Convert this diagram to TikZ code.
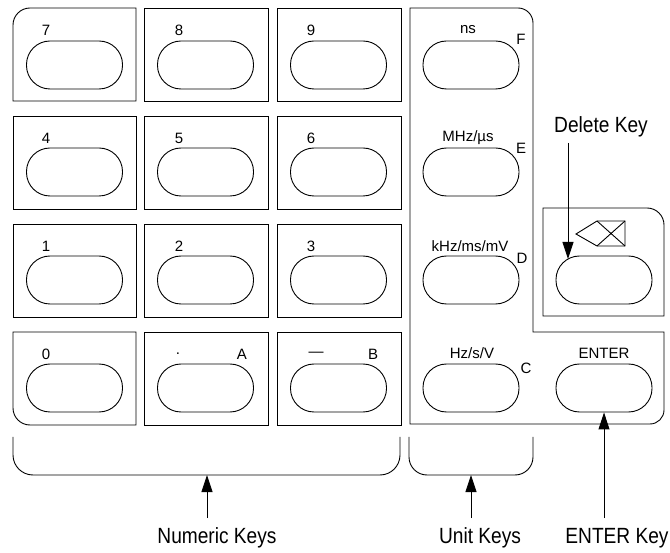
\documentclass[tikz,border=0pt]{standalone}
\usepackage{fontspec}
\setmainfont{Liberation Sans}
\newfontfamily\narrowf[FakeStretch=0.87]{Liberation Sans}
\usetikzlibrary{arrows.meta}
\tikzset{
  panel/.style={draw, line width=0.9pt},
  keyo/.style={draw, line width=0.9pt, rounded corners=23.5pt, minimum width=96pt, minimum height=48pt, inner sep=0pt},
  klab/.style={font=\fontsize{15}{15}\selectfont, inner sep=0pt},
  big/.style={font=\narrowf\fontsize{22}{22}\selectfont, inner sep=0pt},
  arr/.style={line width=0.9pt, -{Triangle[length=17pt,width=11pt]}},
}
\begin{document}
\begin{tikzpicture}[x=1pt,y=-1pt]
\useasboundingbox (0,0) rectangle (670,553);
% numeric key boxes
\draw[panel] (13,101) -- (13,25) arc[start angle=180,end angle=270,radius=17] -- (136,8) -- (136,101) -- cycle;
\draw[panel] (144,8) rectangle (268,101);
\draw[panel] (277,8) rectangle (401,101);
\foreach \y in {116,224}{
  \draw[panel] (13,\y) rectangle (136,\y+93);
  \draw[panel] (144,\y) rectangle (268,\y+93);
  \draw[panel] (277,\y) rectangle (401,\y+93);
}
\draw[panel] (13,332) -- (136,332) -- (136,425) -- (30,425) arc[start angle=90,end angle=180,radius=17] -- cycle;
\draw[panel] (144,332) rectangle (268,425);
\draw[panel] (277,332) rectangle (401,425);
% unit panel
\draw[panel] (410,424) -- (410,8) -- (518,8) arc[start angle=270,end angle=360,radius=15] -- (533,332) -- (664,332) -- (664,410) arc[start angle=0,end angle=90,radius=14] -- cycle;
% delete box
\draw[panel] (543,316) -- (543,208) -- (647,208) arc[start angle=270,end angle=360,radius=17] -- (664,316) -- cycle;
% delete symbol
\draw[line width=0.9pt, line join=miter] (576,234) -- (597,221) -- (625,221) -- (625,246) -- (597,246) -- cycle;
\draw[line width=0.9pt] (597,221) -- (625,246) (597,246) -- (625,221);
% ovals
\node[keyo] (k7) at (74.5,65) {};
\node[keyo] (k8) at (205.5,65) {};
\node[keyo] (k9) at (338.5,65) {};
\node[keyo] (k4) at (74.5,172) {};
\node[keyo] (k5) at (205.5,172) {};
\node[keyo] (k6) at (338.5,172) {};
\node[keyo] (k1) at (74.5,280) {};
\node[keyo] (k2) at (205.5,280) {};
\node[keyo] (k3) at (338.5,280) {};
\node[keyo] (k0) at (74.5,388) {};
\node[keyo] (kA) at (205.5,388) {};
\node[keyo] (kB) at (338.5,388) {};
\node[keyo] (uF) at (471,65) {};
\node[keyo] (uE) at (471,172) {};
\node[keyo] (uD) at (471,280) {};
\node[keyo] (uC) at (471,388) {};
\node[keyo] (del) at (604,280) {};
\node[keyo] (ent) at (604,388) {};
% key labels
\node[klab] (l7) at (46,30) {7};
\node[klab] (l8) at (179,30) {8};
\node[klab] (l9) at (311,30) {9};
\node[klab] (l4) at (46,138) {4};
\node[klab] (l5) at (179,138) {5};
\node[klab] (l6) at (311,138) {6};
\node[klab] (l1) at (46,246) {1};
\node[klab] (l2) at (179,246) {2};
\node[klab] (l3) at (311,246) {3};
\node[klab] (l0) at (46,354) {0};
\node[klab] (ldot) at (178,354) {.};
\node[klab] (lA) at (242,354) {A};
\node[klab] (ldash) at (316,354) {—};
\node[klab] (lB) at (373,354) {B};
\node[klab] (lns) at (468,30) {ns};
\node[klab] (lF) at (521,39) {F};
\node[klab] (lMHz) at (468,138) {MHz/µs};
\node[klab] (lE) at (521,148) {E};
\node[klab] (lkHz) at (470,246) {kHz/ms/mV};
\node[klab] (lD) at (522,258) {D};
\node[klab] (lHz) at (472,353) {Hz/s/V};
\node[klab] (lC) at (526,368) {C};
\node[klab] (lENT) at (604,353) {ENTER};
% braces
\draw[panel, rounded corners=20pt] (13,437) -- (13,475) -- (400,475) -- (400,437);
\draw[panel, rounded corners=18pt] (409,437) -- (409,475) -- (533,475) -- (533,437);
% captions
\node[big] (nk) at (217,538) {Numeric Keys};
\node[big] (uk) at (480,538) {Unit Keys};
\node[big] (ek) at (617,538) {ENTER Key};
\node[big] (dk) at (601,127) {Delete Key};
% arrows
\coordinate (nbr) at (207,475);
\coordinate (ntl) at (207,518);
\coordinate (ubr) at (471,475);
\coordinate (utl) at (471,518);
\coordinate (etl) at (604,518);
\coordinate (dtl) at (568,143);
\coordinate (dhd) at (568,259);
\draw[arr] (ntl) -- (nbr);
\draw[arr] (utl) -- (ubr);
\draw[arr] (etl) -- (ent.south);
\draw[arr] (dtl) -- (dhd);
\end{tikzpicture}
\end{document}
